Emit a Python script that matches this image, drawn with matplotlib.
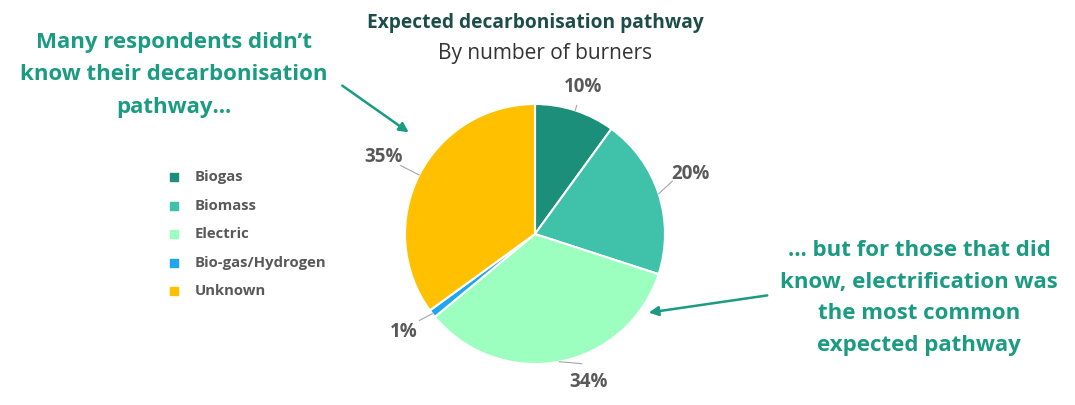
import numpy as np
import matplotlib.pyplot as plt

plt.rcParams['font.family'] = ['Open Sans', 'DejaVu Sans']

categories = ['Biogas', 'Biomass', 'Electric', 'Bio-gas/Hydrogen', 'Unknown']
shares = [10, 20, 34, 1, 35]
colors = ['#1b8f7a', '#40c1aa', '#9cffc0', '#1ea7f0', '#ffc000']

green = '#1a9b82'
grey = '#595959'

fig = plt.figure(figsize=(10.75, 4.05), dpi=100)
ax = fig.add_axes([0, 0, 1, 1])

# pixel-like coordinate system, y pointing up
cx, cy, r = 535, 405 - 234, 130
wedges, _ = ax.pie(shares, colors=colors, startangle=90, counterclock=False,
                   center=(cx, cy), radius=r, frame=True,
                   wedgeprops=dict(edgecolor='white', linewidth=1.5))

# percentage labels with short leader lines
label_dist = [1.19, 1.28, 1.21, 1.26, 1.31]
label_shift = [0, 3, 9, -1, 0]
start = 90
for val, d, sh in zip(shares, label_dist, label_shift):
    mid = start - val * 3.6 / 2
    start -= val * 3.6
    a = np.deg2rad(mid + sh)
    am = np.deg2rad(mid)
    tx, ty = cx + d * r * np.cos(a), cy + d * r * np.sin(a)
    ax.text(tx, ty, f'{val}%', ha='center', va='center', fontsize=13.5,
            fontweight='bold', color=grey)
    x0, y0 = cx + r * np.cos(am), cy + r * np.sin(am)
    x1, y1 = cx + (d - 0.15) * r * np.cos(a), cy + (d - 0.15) * r * np.sin(a)
    ax.plot([x0, x1], [y0, y1], color='#a6a6a6', lw=0.8)

ax.set_xlim(0, 1075)
ax.set_ylim(0, 405)
ax.set_aspect('auto')
ax.axis('off')

# title
ax.text(cx, 405 - 23, 'Expected decarbonisation pathway', ha='center', va='center',
        fontsize=13.8, fontweight='bold', color='#1d4d4a')
ax.text(cx + 10, 405 - 53, 'By number of burners', ha='center', va='center',
        fontsize=15, color='#333333')

# legend
for i, (name, c) in enumerate(zip(categories, colors)):
    y = 405 - (177 + i * 28.5)
    ax.scatter([174], [y], marker='s', s=40, color=c)
    ax.text(195, y, name, ha='left', va='center', fontsize=10.7,
            fontweight='bold', color=grey)

# callouts
ax.text(174, 405 - 75, 'Many respondents didn\u2019t\nknow their decarbonisation\npathway\u2026',
        ha='center', va='center', fontsize=16, fontweight='bold', color=green,
        linespacing=1.7)
ax.annotate('', xy=(411, 405 - 134), xytext=(340, 405 - 84),
            arrowprops=dict(arrowstyle='-|>', color=green, lw=1.8, mutation_scale=14))

ax.text(919, 405 - 298, '\u2026 but for those that did\nknow, electrification was\nthe most common\nexpected pathway',
        ha='center', va='center', fontsize=16, fontweight='bold', color=green,
        linespacing=1.65)
ax.annotate('', xy=(646, 405 - 313), xytext=(770, 405 - 295),
            arrowprops=dict(arrowstyle='-|>', color=green, lw=1.8, mutation_scale=14))

fig.savefig('out.png', dpi=100, facecolor='white')
